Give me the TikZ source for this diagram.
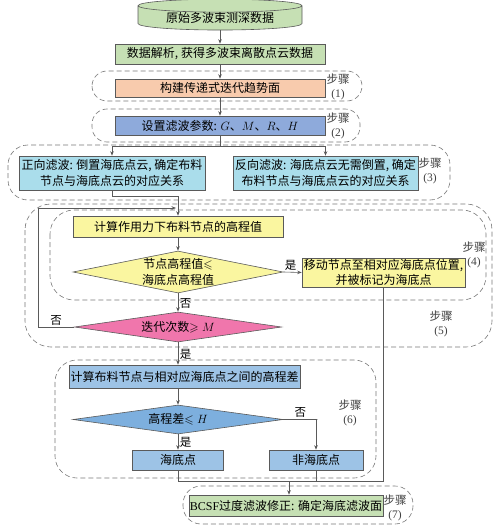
\documentclass[tikz,border=0pt]{standalone}
\usepackage{amsmath,amssymb}
\usepackage{fontspec}
\setmainfont{Noto Sans CJK SC}
\newfontfamily\latinrm{Liberation Serif}
\usetikzlibrary{arrows.meta,shapes.geometric}
\definecolor{srcgreen}{RGB}{198,224,180}
\definecolor{salmon}{RGB}{248,203,173}
\definecolor{parblue}{RGB}{142,170,219}
\definecolor{cyanbox}{RGB}{170,221,235}
\definecolor{paleyellow}{RGB}{250,246,160}
\definecolor{pinkdia}{RGB}{240,118,172}
\definecolor{skyblue}{RGB}{157,195,230}
\definecolor{midblue}{RGB}{125,175,222}
\definecolor{edge}{RGB}{90,90,90}
\definecolor{dashgray}{RGB}{120,120,120}
\tikzset{>={Stealth[length=4.5pt,width=3.5pt]}}

\begin{document}
\begin{tikzpicture}[x=1pt,y=-1pt,
  font=\fontsize{12}{15.5}\selectfont,
  box/.style={draw=edge,line width=0.6pt,inner sep=1pt,align=center},
  dia/.style={diamond,draw=edge,line width=0.6pt,inner sep=0pt},
  cyl/.style={cylinder,shape border rotate=90,aspect=0.12,draw=edge,
    fill=srcgreen,line width=0.6pt,inner sep=0pt},
  grp/.style={draw=dashgray,dash pattern=on 5pt off 3pt,line width=0.6pt},
  steplbl/.style={align=center,inner sep=0pt,text=black!75,
    font=\fontsize{11.5}{14}\selectfont},
  link/.style={draw=edge,line width=0.6pt},
  yn/.style={inner sep=1.5pt,font=\fontsize{11.5}{13}\selectfont}]

  \useasboundingbox (0,0) rectangle (500,532);

  % Step groups
  \draw[grp,rounded corners=15pt] (92,71) rectangle (362,101);
  \draw[grp,rounded corners=15pt] (92,109) rectangle (360,142);
  \draw[grp,rounded corners=20pt] (8,145) rectangle (450,200);
  \draw[grp,rounded corners=26pt] (25,204) rectangle (492,347);
  \draw[grp,rounded corners=24pt] (50,210) rectangle (486,300);
  \draw[grp,rounded corners=22pt] (55,360) rectangle (376,478);
  \draw[grp,rounded corners=18pt] (183,486) rectangle (413,524);

  \node[steplbl] (s1) at (338,87) {步骤\\{\latinrm(1)}};
  \node[steplbl] (s2) at (338,126) {步骤\\{\latinrm(2)}};
  \node[steplbl] (s3) at (430,171) {步骤\\{\latinrm(3)}};
  \node[steplbl] (s4) at (474,255) {步骤\\{\latinrm(4)}};
  \node[steplbl] (s5) at (441,324) {步骤\\{\latinrm(5)}};
  \node[steplbl] (s6) at (350,413) {步骤\\{\latinrm(6)}};
  \node[steplbl] (s7) at (395,508) {步骤\\{\latinrm(7)}};

  % Flow nodes
  \node[cyl,minimum width=164pt,minimum height=26pt] (src) at (220,18)
    {原始多波束测深数据};
  \node[box,fill=srcgreen,minimum width=210pt,minimum height=20pt]
    (parse) at (220,54) {数据解析, 获得多波束离散点云数据};
  \node[box,fill=salmon,minimum width=210pt,minimum height=18pt]
    (trend) at (220,88) {构建传递式迭代趋势面};
  \node[box,fill=parblue,minimum width=210pt,minimum height=19pt]
    (param) at (220,125.5) {设置滤波参数: $G$、$M$、$R$、$H$};
  \node[box,fill=cyanbox,minimum width=186pt,minimum height=34pt]
    (fwd) at (112,173)
    {正向滤波: 倒置海底点云, 确定布料\\节点与海底点云的对应关系};
  \node[box,fill=cyanbox,minimum width=185pt,minimum height=34pt]
    (rev) at (325.5,173)
    {反向滤波: 海底点云无需倒置, 确定\\布料节点与海底点云的对应关系};
  \node[box,fill=paleyellow,minimum width=210pt,minimum height=21pt]
    (force) at (178,226.5) {计算作用力下布料节点的高程值};
  \node[dia,fill=paleyellow,minimum width=210pt,minimum height=42pt,
    label={[align=center]center:节点高程值$\leqslant$\\海底点高程值}]
    (cmp) at (178,272) {};
  \node[box,fill=paleyellow,minimum width=163pt,minimum height=27pt]
    (move) at (383.5,272.5) {移动节点至相对应海底点位置,\\并被标记为海底点};
  \node[dia,fill=pinkdia,minimum width=207pt,minimum height=30pt,
    label=center:迭代次数$\geqslant M$] (iter) at (178,327) {};
  \node[box,fill=skyblue,minimum width=231pt,minimum height=23pt]
    (diff) at (184.5,376.5) {计算布料节点与相对应海底点之间的高程差};
  \node[dia,fill=midblue,minimum width=210pt,minimum height=29pt,
    label=center:高程差$\leqslant H$] (hd) at (178,419.5) {};
  \node[box,fill=skyblue,minimum width=91pt,minimum height=20pt]
    (sea) at (178,460) {海底点};
  \node[box,fill=skyblue,minimum width=94pt,minimum height=20pt]
    (nonsea) at (316,460) {非海底点};
  \node[box,fill=srcgreen,minimum width=192pt,minimum height=21pt]
    (bcsf) at (286,505.5) {{\latinrm BCSF}过度滤波修正: 确定海底滤波面};

  \coordinate (loopin) at (176,208);
  \coordinate (merge) at (289,481);

  % Connectors
  \draw[link,->] (src.south) -- (parse.north);
  \draw[link,->] (parse.south) -- (trend.north);
  \draw[link,->] (trend.south) -- (param.north);
  \draw[link,->] (param.south) -- ++(0,10.5) -| (fwd.north);
  \draw[link,->] (param.south) -- ++(0,10.5) -| (rev.north);
  \draw[link,->] (fwd.south) -- ++(0,6) -| (force.north);
  \draw[link,->] (force.south) -- (cmp.north);
  \draw[link,->] (cmp.east) -- node[yn,above,pos=0.4] {是} (move.west);
  \draw[link,->] (cmp.south) -- node[yn,right,pos=0.55] {否} (iter.north);
  \draw[link,->] (iter.west) -- node[yn,above] {否} ++(-36,0) |- (loopin);
  \draw[link,->] (iter.south) -- node[yn,right,pos=0.55] {是}
    (iter.south |- diff.north);
  \draw[link,->] (hd.north |- diff.south) -- (hd.north);
  \draw[link,->] (hd.south) -- node[yn,right,pos=0.55] {是} (sea.north);
  \draw[link,->] (hd.east) -- node[yn,above] {否} ++(34,0) -| (nonsea.north);
  \draw[link] (sea.south) |- (merge);
  \draw[link] (nonsea.south) |- (merge);
  \draw[link] (move.south) |- (merge);
  \draw[link,->] (merge) -- (merge |- bcsf.north);

\end{tikzpicture}
\end{document}
